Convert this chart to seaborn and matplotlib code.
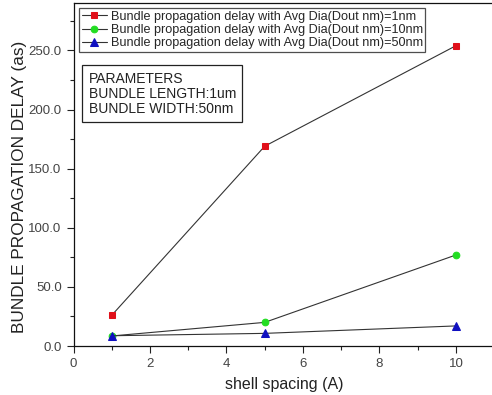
import matplotlib
matplotlib.use("Agg")
import matplotlib.pyplot as plt
import seaborn as sns
import pandas as pd
from matplotlib.ticker import MultipleLocator, FormatStrFormatter

sns.set_theme(style="white")
plt.rcParams['font.family'] = ['Liberation Sans', 'DejaVu Sans']

shell_spacing = [1, 5, 10]
delay_1nm = [26, 169, 254]
delay_10nm = [8.5, 20, 77]
delay_50nm = [8.7, 10.7, 17]
labels = ["Bundle propagation delay with Avg Dia(Dout nm)=1nm",
          "Bundle propagation delay with Avg Dia(Dout nm)=10nm",
          "Bundle propagation delay with Avg Dia(Dout nm)=50nm"]
colors = ["#e0101a", "#22dd22", "#1010c0"]
markers = ["s", "o", "^"]

df = pd.concat([
    pd.DataFrame({"x": shell_spacing, "y": v, "series": lab})
    for v, lab in zip([delay_1nm, delay_10nm, delay_50nm], labels)
])

fig = plt.figure(figsize=(4.92, 3.95), dpi=100)
ax = fig.add_axes([0.1494, 0.124, 0.855, 0.868])

sizes = {"s": 4.8, "o": 4.8, "^": 6.2}
for (lab, col, mk) in zip(labels, colors, markers):
    sub = df[df.series == lab]
    sns.lineplot(data=sub, x="x", y="y", ax=ax, color="#333333", lw=0.8,
                 marker=mk, markerfacecolor=col, markeredgecolor=col,
                 markersize=sizes[mk], label=lab, legend=False)

ax.set_xlim(0, 11)
ax.set_ylim(0, 290)
ax.xaxis.set_major_locator(MultipleLocator(2))
ax.xaxis.set_minor_locator(MultipleLocator(1))
ax.yaxis.set_major_locator(MultipleLocator(50))
ax.yaxis.set_minor_locator(MultipleLocator(25))
ax.yaxis.set_major_formatter(FormatStrFormatter('%.1f'))
ax.tick_params(which='major', direction='out', length=5, width=0.8, colors='#222222',
               labelsize=9.5, labelcolor='#444444', left=True, bottom=True)
ax.tick_params(which='minor', direction='out', length=3, width=0.8, colors='#222222',
               left=True, bottom=True)
for s in ax.spines.values():
    s.set_color('#111111')
    s.set_linewidth(0.9)

ax.set_xlabel("shell spacing (A)", fontsize=11.5, color='#222222', labelpad=5)
ax.set_ylabel("BUNDLE PROPAGATION DELAY (as)", fontsize=12.4, color='#222222')
ax.yaxis.set_label_coords(-0.11, 0.464)

leg = ax.legend(loc='upper left', bbox_to_anchor=(0.013, 0.985), fontsize=9.1,
                frameon=True, fancybox=False, edgecolor='#222222', borderpad=0.2,
                handlelength=2.0, handletextpad=0.3, labelspacing=0.1, borderaxespad=0)
leg.get_frame().set_linewidth(0.9)

ax.text(0.036, 0.8, "PARAMETERS\nBUNDLE LENGTH:1um\nBUNDLE WIDTH:50nm",
        transform=ax.transAxes, fontsize=10, color='#222222', va='top', ha='left',
        linespacing=1.1,
        bbox=dict(boxstyle='square,pad=0.45', fc='white', ec='#222222', lw=0.9))

fig.savefig("out.png", dpi=100)
